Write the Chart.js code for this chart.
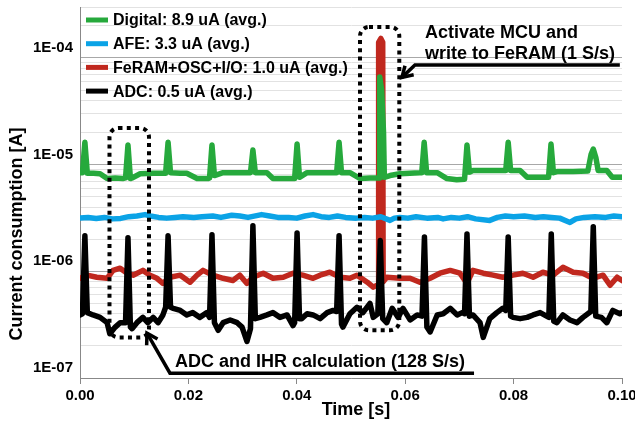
<!DOCTYPE html>
<html>
<head>
<meta charset="utf-8">
<script src="https://cdn.jsdelivr.net/npm/chart.js@4/dist/chart.umd.min.js"></script>
<style>
  html, body { margin: 0; padding: 0; background: #fff; }
</style>
</head>
<body>
<canvas id="chart" width="635" height="425"></canvas>
<script>
// Current traces, pairs of [time in ms, current in uA]
const digitalTrace = [
  [0, 8.4], [0.45, 8.4], [0.9, 16.2], [1.35, 8.3], [2.5, 8.3], [3.7, 8.2], [5.0, 7.4], [6.5, 7.5],
  [7.9, 7.4], [8.4, 7.5], [8.85, 15.3], [9.3, 7.4], [9.6, 7.5], [11.1, 8.2], [13.5, 8.3], [15.8, 8.3],
  [16.25, 16.2], [16.7, 8.4], [18.5, 8.3], [19.7, 8.3], [21.6, 7.4], [23.6, 7.4], [23.9, 7.5], [24.35, 15.3],
  [24.8, 7.9], [26.4, 8.4], [29.0, 8.4], [31.45, 8.4], [31.9, 13.7], [32.35, 8.4], [34.5, 8.4], [35.6, 7.4],
  [37.5, 7.4], [39.6, 7.4], [40.05, 15.6], [40.5, 7.6], [41.9, 8.4], [44.5, 8.4], [47.35, 8.4], [47.8, 16.2],
  [48.25, 8.4], [49.8, 8.4], [51.7, 7.4], [53.5, 7.5], [55.2, 7.5], [55.3, 66.4], [55.65, 50], [56.0, 20],
  [56.15, 7.6], [57.2, 7.9], [59.0, 8.2], [62.7, 8.4], [63.05, 8.4], [63.5, 16.2], [63.95, 8.4], [65.9, 8.4],
  [67.7, 7.4], [69.5, 7.2], [70.95, 7.3], [71.4, 15.3], [71.85, 8.5], [72.5, 8.8], [75.6, 8.8], [78.55, 8.8],
  [79.0, 16.2], [79.45, 8.8], [81.2, 8.8], [82.5, 7.6], [84.9, 7.6], [86.45, 7.6], [86.9, 15.6], [87.35, 8.4],
  [88.0, 8.6], [91.0, 8.6], [93.7, 8.7], [94.3, 12.5], [94.7, 14.0], [95.2, 11.5], [95.6, 8.8], [97.2, 8.8],
  [98.2, 7.6], [100, 7.6]
];

const afeTrace = [
  [0, 3.15], [1.5, 3.2], [3.0, 3.13], [4.5, 3.2], [6.0, 3.1], [7.5, 3.13], [9.0, 3.25], [10.5, 3.3],
  [12.0, 3.4], [13.0, 3.3], [14.5, 3.2], [16.0, 3.15], [17.5, 3.2], [19.0, 3.25], [21.0, 3.2], [22.5, 3.25],
  [24.5, 3.3], [26.0, 3.2], [28.0, 3.35], [29.5, 3.3], [31.0, 3.2], [33.5, 3.4], [35.0, 3.3], [36.5, 3.2],
  [38.5, 3.2], [40.0, 3.15], [41.5, 3.3], [43.0, 3.4], [44.5, 3.25], [46.0, 3.2], [47.5, 3.3], [49.0, 3.2],
  [51.0, 3.15], [52.5, 3.2], [54.0, 3.15], [55.5, 3.25], [57.2, 3.0], [58.0, 3.15], [59.0, 3.2], [60.5, 3.15],
  [62.0, 3.25], [64.0, 3.15], [66.0, 3.2], [67.0, 3.1], [68.5, 3.2], [70.0, 3.15], [71.5, 3.25], [73.0, 3.1],
  [75.6, 3.0], [77.0, 3.2], [78.5, 3.3], [80.0, 3.25], [82.0, 3.3], [84.0, 3.2], [85.5, 3.25], [87.0, 3.2],
  [88.5, 3.15], [90.4, 2.87], [91.5, 3.1], [93.0, 3.2], [95.0, 3.25], [97.0, 3.2], [98.5, 3.3], [100, 3.25]
];

const feramTrace = [
  [0, 0.86], [1.3, 0.92], [3.1, 0.88], [5.0, 0.86], [6.1, 1.02], [7.4, 1.07], [8.7, 0.96], [9.8, 0.92],
  [11.6, 1.02], [12.9, 0.92], [14.2, 0.86], [15.3, 0.77], [16.6, 0.88], [18.5, 0.92], [20.3, 0.79], [21.6, 0.92],
  [22.7, 1.02], [24.5, 0.92], [26.4, 0.86], [28.2, 0.82], [29.5, 0.92], [30.8, 0.77], [31.9, 0.88], [33.8, 0.96],
  [35.6, 0.86], [37.5, 0.88], [39.3, 0.96], [41.1, 0.92], [43.0, 0.86], [44.3, 0.92], [46.1, 0.98], [48.0, 0.88],
  [49.8, 0.86], [51.1, 0.92], [53.0, 0.79], [54.1, 0.71], [55.02, 0.75], [55.1, 140], [55.5, 152], [55.85, 140],
  [55.93, 0.8], [56.6, 0.88], [59.0, 0.86], [60.9, 0.86], [62.7, 0.79], [64.6, 0.86], [66.4, 0.96], [68.3, 1.02],
  [70.1, 0.96], [71.4, 0.77], [72.5, 1.02], [74.4, 0.96], [76.2, 0.92], [78.0, 0.88], [79.9, 0.92], [81.7, 0.96],
  [83.6, 0.88], [85.4, 0.98], [87.3, 0.92], [89.1, 1.09], [91.0, 0.98], [92.8, 0.96], [94.6, 0.86], [96.5, 0.92],
  [97.8, 0.74], [99.1, 0.88], [100, 0.82]
];

const adcTrace = [
  [0, 0.39], [0.45, 0.40], [0.9, 2.15], [1.35, 0.41], [2.4, 0.39], [3.7, 0.37], [5.0, 0.33], [5.5, 0.26],
  [6.5, 0.30], [7.4, 0.33], [8.4, 0.33], [8.85, 2.06], [9.3, 0.30], [9.6, 0.29], [10.5, 0.33], [11.6, 0.37],
  [12.5, 0.33], [13.5, 0.37], [14.4, 0.33], [15.3, 0.39], [15.8, 0.46], [16.25, 2.15], [16.7, 0.46], [17.2, 0.45],
  [18.5, 0.43], [19.7, 0.39], [20.8, 0.41], [22.1, 0.37], [23.4, 0.41], [23.9, 0.37], [24.35, 2.2], [24.8, 0.33],
  [25.5, 0.28], [26.4, 0.33], [27.7, 0.35], [29.0, 0.33], [29.9, 0.30], [30.8, 0.22], [31.45, 0.29], [31.9, 2.67],
  [32.35, 0.36], [33.2, 0.37], [34.5, 0.39], [35.6, 0.41], [36.9, 0.37], [38.2, 0.39], [39.3, 0.31], [39.6, 0.33],
  [40.05, 2.29], [40.5, 0.36], [40.9, 0.36], [41.9, 0.40], [43.0, 0.39], [44.3, 0.36], [45.6, 0.41], [46.7, 0.43],
  [47.35, 0.42], [47.8, 2.15], [48.25, 0.32], [48.5, 0.30], [49.8, 0.40], [51.1, 0.46], [52.2, 0.41], [53.5, 0.50],
  [54.1, 0.37], [54.95, 0.40], [55.4, 1.94], [55.85, 0.36], [56.6, 0.33], [57.6, 0.45], [58.7, 0.37], [59.6, 0.45],
  [60.9, 0.35], [62.2, 0.39], [63.1, 0.38], [63.55, 2.1], [64.0, 0.30], [64.6, 0.27], [65.9, 0.39], [67.0, 0.40],
  [68.3, 0.45], [69.6, 0.39], [70.5, 0.41], [70.95, 0.40], [71.4, 2.24], [71.85, 0.38], [72.5, 0.39], [73.8, 0.33],
  [74.4, 0.24], [75.6, 0.36], [76.9, 0.41], [78.0, 0.45], [78.55, 0.43], [79.0, 2.1], [79.45, 0.38], [79.9, 0.37],
  [81.2, 0.36], [82.5, 0.37], [83.6, 0.39], [84.9, 0.41], [86.5, 0.37], [86.95, 2.24], [87.4, 0.34],
  [88.0, 0.33], [89.1, 0.39], [90.4, 0.35], [91.7, 0.33], [92.8, 0.37], [94.25, 0.42], [94.7, 2.62],
  [95.15, 0.38], [96.2, 0.37], [97.2, 0.33], [98.3, 0.43], [99.6, 0.40], [100, 0.41]
];

const seriesLabels = [
  'Digital: 8.9 uA (avg.)',
  'AFE: 3.3 uA (avg.)',
  'FeRAM+OSC+I/O: 1.0 uA (avg.)',
  'ADC: 0.5 uA (avg.)'
];
const seriesColors = ['#26a93c', '#0ba3e6', '#c0281e', '#000000'];
// lower number is drawn on top
const seriesOrder = [1, 2, 3, 0];

const xTickValues = [0, 0.02, 0.04, 0.06, 0.08, 0.10];
const xTickLabels = ['0.00', '0.02', '0.04', '0.06', '0.08', '0.10'];
const yDecades = [1e-7, 1e-6, 1e-5, 1e-4];
const yDecadeLabels = ['1E-07', '1E-06', '1E-05', '1E-04'];
const yMin = 1e-7;
const yMax = 3e-4;

const FONT = "'Liberation Sans', Arial, sans-serif";

// call-outs, placed in axis units (time s, current A)
const dottedBoxes = [
  { t0: 0.00544, t1: 0.01273, top: 2.2e-5, bottom: 2.4e-7 },
  { t0: 0.05166, t1: 0.05891, top: 1.95e-4, bottom: 2.8e-7 }
];
const callouts = [
  { path: [[0.0727, 1.11e-7], [0.0166, 1.11e-7], [0.01236, 2.63e-7]],
    lines: ['ADC and IHR calculation (128 S/s)'], textAt: 'below' },
  { path: [[0.0996, 8.6e-5], [0.0618, 8.6e-5], [0.0594, 6.57e-5]],
    lines: ['Activate MCU and', 'write to FeRAM (1 S/s)'], textAt: 'above' }
];

function toPoints(trace) {
  return trace.map(p => ({ x: p[0] / 1000, y: p[1] * 1e-6 }));
}

function isDecade(v) {
  return yDecades.some(d => Math.abs(v / d - 1) < 1e-6);
}

// all 1..9 steps of every decade, up to the axis top
function yGridValues() {
  const vals = [];
  yDecades.forEach(d => {
    for (let m = 1; m <= 9; m++) {
      const v = Math.round(m * d * 1e12) / 1e12;
      if (v <= yMax * 1.0001) vals.push(v);
    }
  });
  return vals;
}

function drawArrowHead(ctx, fx, fy, tx, ty) {
  const ang = Math.atan2(ty - fy, tx - fx);
  const len = 12;
  ctx.beginPath();
  ctx.moveTo(tx - len * Math.cos(ang - 0.55), ty - len * Math.sin(ang - 0.55));
  ctx.lineTo(tx, ty);
  ctx.lineTo(tx - len * Math.cos(ang + 0.55), ty - len * Math.sin(ang + 0.55));
  ctx.stroke();
}

const overlayPlugin = {
  id: 'overlay',
  afterDatasetsDraw(chart) {
    const ctx = chart.ctx;
    const xs = chart.scales.x;
    const ys = chart.scales.y;
    const area = chart.chartArea;
    ctx.save();

    // legend inside the plot
    chart.data.datasets.forEach((ds, i) => {
      const cy = area.top + 13 + i * 23.7;
      ctx.strokeStyle = ds.borderColor;
      ctx.lineWidth = 5;
      ctx.lineCap = 'butt';
      ctx.beginPath();
      ctx.moveTo(area.left + 6, cy);
      ctx.lineTo(area.left + 28, cy);
      ctx.stroke();
      ctx.fillStyle = '#000';
      ctx.font = 'bold 16px ' + FONT;
      ctx.textBaseline = 'middle';
      ctx.textAlign = 'left';
      ctx.fillText(ds.label, area.left + 33, cy + 1);
    });

    // dotted boxes
    ctx.strokeStyle = '#000';
    ctx.lineWidth = 4;
    ctx.setLineDash([4, 4.3]);
    dottedBoxes.forEach(b => {
      const l = xs.getPixelForValue(b.t0);
      const r = xs.getPixelForValue(b.t1);
      const t = ys.getPixelForValue(b.top);
      const btm = ys.getPixelForValue(b.bottom);
      ctx.beginPath();
      ctx.roundRect(l, t, r - l, btm - t, 9);
      ctx.stroke();
    });
    ctx.setLineDash([]);

    // arrows with text
    ctx.lineWidth = 3.5;
    ctx.lineJoin = 'miter';
    callouts.forEach(c => {
      const pts = c.path.map(p => [xs.getPixelForValue(p[0]), ys.getPixelForValue(p[1])]);
      ctx.beginPath();
      pts.forEach((p, i) => i ? ctx.lineTo(p[0], p[1]) : ctx.moveTo(p[0], p[1]));
      ctx.stroke();
      const n = pts.length;
      drawArrowHead(ctx, pts[n - 2][0], pts[n - 2][1], pts[n - 1][0], pts[n - 1][1]);

      ctx.fillStyle = '#000';
      ctx.font = 'bold 18px ' + FONT;
      ctx.textAlign = 'left';
      ctx.textBaseline = 'middle';
      const knee = pts[1];
      if (c.textAt === 'below') {
        ctx.fillText(c.lines[0], knee[0] + 5, knee[1] - 11);
      } else {
        c.lines.forEach((s, i) => {
          ctx.fillText(s, knee[0] + 10, knee[1] - 32 + i * 21);
        });
      }
    });

    // axis titles
    ctx.font = 'bold 18px ' + FONT;
    ctx.textAlign = 'center';
    ctx.textBaseline = 'middle';
    ctx.fillText('Time [s]', (area.left + area.right) / 2 + 5, 410);
    ctx.translate(17, 234);
    ctx.rotate(-Math.PI / 2);
    ctx.fillText('Current consumption [A]', 0, 0);
    ctx.restore();
  }
};

const datasets = [digitalTrace, afeTrace, feramTrace, adcTrace].map((trace, i) => ({
  label: seriesLabels[i],
  data: toPoints(trace),
  borderColor: seriesColors[i],
  backgroundColor: seriesColors[i],
  borderWidth: 5.5,
  borderJoinStyle: 'round',
  borderCapStyle: 'round',
  pointRadius: 0,
  tension: 0,
  order: seriesOrder[i]
}));

new Chart(document.getElementById('chart'), {
  type: 'line',
  data: { datasets: datasets },
  options: {
    responsive: false,
    animation: false,
    events: [],
    layout: { padding: { top: 7, right: 13, left: 0, bottom: 0 } },
    plugins: {
      legend: { display: false },
      tooltip: { enabled: false }
    },
    scales: {
      x: {
        type: 'linear',
        min: 0,
        max: 0.1,
        afterBuildTicks: s => { s.ticks = xTickValues.map(v => ({ value: v })); },
        afterFit: s => { s.height = 47; s.paddingLeft = 0; s.paddingRight = 0; },
        ticks: {
          autoSkip: false,
          maxRotation: 0,
          padding: 3,
          color: '#000',
          font: { family: FONT, size: 15, weight: 'bold' },
          callback: (v, i) => xTickLabels[i]
        },
        grid: { display: true, drawOnChartArea: false, drawTicks: true, tickLength: 6, tickColor: '#888' },
        border: { color: '#888', width: 1 }
      },
      y: {
        type: 'logarithmic',
        min: yMin,
        max: yMax,
        afterBuildTicks: s => { s.ticks = yGridValues().map(v => ({ value: v })); },
        afterFit: s => { s.width = 80; s.paddingTop = 0; s.paddingBottom = 0; },
        ticks: {
          autoSkip: false,
          padding: 7,
          labelOffset: -10,
          color: '#000',
          font: { family: FONT, size: 15, weight: 'bold' },
          callback: v => {
            const k = yDecades.findIndex(d => Math.abs(v / d - 1) < 1e-6);
            return k >= 0 ? yDecadeLabels[k] : '';
          }
        },
        grid: {
          drawTicks: false,
          lineWidth: 1,
          color: c => (c.tick && isDecade(c.tick.value)) ? '#a8a8a8' : '#e2e2e2'
        },
        border: { color: '#888', width: 1 }
      }
    }
  },
  plugins: [overlayPlugin]
});
</script>
</body>
</html>
